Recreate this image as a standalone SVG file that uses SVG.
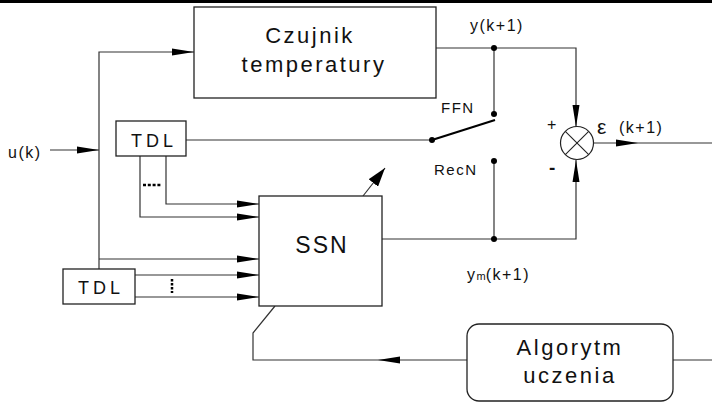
<svg xmlns="http://www.w3.org/2000/svg" width="712" height="404" viewBox="0 0 712 404">
<style>
.box{fill:#fff;stroke:#222;stroke-width:1.3}
.ln{fill:none;stroke:#333;stroke-width:1.2}
.t{font-family:"Liberation Sans",Arial,sans-serif;fill:#111}
.big{font-size:22px;letter-spacing:2.5px}
.mid{font-size:18px;letter-spacing:4px}
.sm{font-size:16px;letter-spacing:1.5px}
.lab{font-size:15px;letter-spacing:1.5px}
.dot{fill:#000}
</style>
<defs>
<marker id="ah" markerUnits="userSpaceOnUse" markerWidth="24" markerHeight="8" refX="22" refY="4" orient="auto">
<path d="M0,0.5 L22,4 L0,7.5 z" fill="#000"/>
</marker>
<marker id="ah2" markerUnits="userSpaceOnUse" markerWidth="20" markerHeight="12" refX="19" refY="6" orient="auto">
<path d="M0,0 L19,6 L0,12 z" fill="#000"/>
</marker>
</defs>
<rect x="0" y="0" width="712" height="3" fill="#000"/>

<g id="connectors">
<line class="ln" x1="50" y1="150" x2="99" y2="150" marker-end="url(#ah)"/>
<polyline class="ln" points="99,269 99,52 194,52" marker-end="url(#ah)"/>
<line class="ln" x1="99" y1="259" x2="259" y2="259" marker-end="url(#ah)"/>
<polyline class="ln" points="166,156 166,204 259,204" marker-end="url(#ah)"/>
<polyline class="ln" points="140,156 140,217 259,217" marker-end="url(#ah)"/>
<line class="ln" x1="135" y1="275" x2="259" y2="275" marker-end="url(#ah)"/>
<line class="ln" x1="135" y1="297" x2="259" y2="297" marker-end="url(#ah)"/>
<line x1="143" y1="185" x2="161" y2="185" stroke="#000" stroke-width="2.5" stroke-dasharray="3,1.8"/>
<line x1="172" y1="279" x2="172" y2="293" stroke="#000" stroke-width="2.5" stroke-dasharray="2.5,1.5"/>
<line class="ln" x1="186" y1="140" x2="432" y2="140"/>
<line x1="432" y1="140" x2="495" y2="120" stroke="#000" stroke-width="2.2"/>
<polyline class="ln" points="436,48 576,48 576,127" marker-end="url(#ah)"/>
<line class="ln" x1="494" y1="48" x2="494" y2="114"/>
<polyline class="ln" points="382,239 576,239 576,160" marker-end="url(#ah)"/>
<line class="ln" x1="494" y1="161" x2="494" y2="239"/>
<line class="ln" x1="594" y1="143" x2="638" y2="143" marker-end="url(#ah)"/>
<line class="ln" x1="638" y1="143" x2="712" y2="143"/>
<line class="ln" x1="673" y1="360" x2="712" y2="360"/>
<line class="ln" x1="467" y1="360" x2="378" y2="360" marker-end="url(#ah)"/>
<polyline class="ln" points="378,360 253,360 253,333 275,306"/>
<line class="ln" x1="363" y1="196" x2="385" y2="168" marker-end="url(#ah2)"/>
<circle class="dot" cx="494" cy="48" r="3"/>
<circle class="dot" cx="494" cy="114" r="3"/>
<circle class="dot" cx="494" cy="161" r="3"/>
<circle class="dot" cx="432" cy="140" r="3"/>
<circle class="dot" cx="494" cy="239" r="3"/>
</g>

<g id="czujnik">
<rect class="box" x="194" y="7" width="242" height="91"/>
<text class="t big" x="310" y="43" text-anchor="middle">Czujnik</text>
<text class="t big" x="314" y="72" text-anchor="middle">temperatury</text>
</g>

<g id="tdl1">
<rect class="box" x="116" y="121" width="70" height="35"/>
<text class="t mid" x="154" y="147" text-anchor="middle">TDL</text>
</g>

<g id="tdl2">
<rect class="box" x="63" y="269" width="72" height="35"/>
<text class="t mid" x="101" y="294" text-anchor="middle">TDL</text>
</g>

<g id="ssn">
<rect class="box" x="259" y="196" width="123" height="110"/>
<text class="t" x="322" y="253" text-anchor="middle" font-size="23" letter-spacing="2">SSN</text>
</g>

<g id="sum">
<circle cx="577" cy="143" r="16.5" fill="#fff" stroke="#222" stroke-width="1.2"/>
<line x1="565.3" y1="131.3" x2="588.7" y2="154.7" stroke="#222" stroke-width="1.1"/>
<line x1="588.7" y1="131.3" x2="565.3" y2="154.7" stroke="#222" stroke-width="1.1"/>
</g>

<g id="algorytm">
<rect class="box" x="467" y="324" width="206" height="77" rx="12"/>
<text class="t big" x="570" y="355" text-anchor="middle">Algorytm</text>
<text class="t big" x="570" y="383" text-anchor="middle">uczenia</text>
</g>

<g id="labels">
<text class="t sm" x="8" y="158">u(k)</text>
<text class="t sm" x="470" y="31">y(k+1)</text>
<text class="t lab" x="441" y="113">FFN</text>
<text class="t lab" x="434" y="175">RecN</text>
<text class="t" x="547" y="130" font-size="16">+</text>
<text class="t" x="549" y="174" font-size="19" font-weight="bold">-</text>
<text class="t" x="597" y="134" font-size="21">ε</text>
<text class="t sm" x="619" y="133">(k+1)</text>
<text class="t sm" x="467" y="280">y<tspan font-size="11" letter-spacing="0">m</tspan>(k+1)</text>
</g>
</svg>
